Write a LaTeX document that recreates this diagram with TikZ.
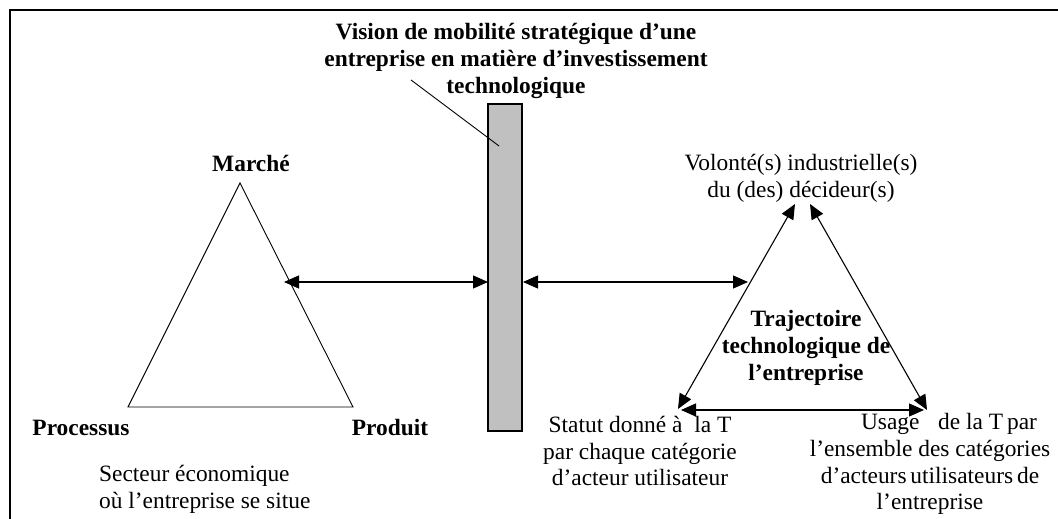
\documentclass[tikz,border=0pt]{standalone}
\usepackage{fontspec}
\setmainfont{Liberation Serif}
\usetikzlibrary{arrows.meta}
\begin{document}
\begin{tikzpicture}[x=1pt,y=-1pt,
  txt/.style={inner sep=0pt,align=center,font=\fontsize{23.4}{26.8}\selectfont},
  btxt/.style={txt,font=\fontsize{23.4}{26.8}\selectfont\bfseries},
  thin/.style={line width=0.9pt},
  dbl/.style={line width=1.1pt,{Triangle[length=15pt,width=13pt]}-{Triangle[length=15pt,width=13pt]}},
  barbox/.style={draw,line width=1.1pt,fill={rgb,255:red,192;green,192;blue,192}}
]
\useasboundingbox (0,0) rectangle (1058,519);
% frame
\draw[line width=2pt] (10,519) -- (10,10) -- (1058,10);

% title
\node[btxt] (title) at (516,61) {Vision de mobilité stratégique d’une\\entreprise en matière d’investissement\\technologique};
% grey bar
\node[barbox,minimum width=34pt,minimum height=327pt,inner sep=0pt] (bar) at (505,267.5) {};
\coordinate (ptrA) at (411,80);
\coordinate (ptrB) at (499,146);
\draw[thin] (ptrA) -- (ptrB);

% left triangle
\coordinate (mA) at (240,183);
\coordinate (mB) at (128,407);
\coordinate (mC) at (353,407);
\draw[thin] (mA) -- (mB) -- (mC) -- cycle;
\node[btxt] (marche) at (251,163) {Marché};
\node[btxt] (processus) at (81,428) {Processus};
\node[btxt] (produit) at (390,428) {Produit};
\node[txt,align=left,anchor=west] (secteur) at (99,489) {Secteur économique\\où l’entreprise se situe};

% horizontal arrows through the bar
\coordinate (lA) at (284,282);
\coordinate (lB) at (488,282);
\coordinate (rA) at (523,282);
\coordinate (rB) at (748,282);
\draw[dbl] (lA) -- (lB);
\draw[dbl] (rA) -- (rB);

% right triangle
\node[txt] (volonte) at (801,178) {Volonté(s) industrielle(s)\\du (des) décideur(s)};
\coordinate (tL) at (795,204);
\coordinate (tR) at (810,204);
\coordinate (bL) at (678,409);
\coordinate (bR) at (927,410);
\coordinate (hL) at (681,410);
\coordinate (hR) at (924,410);
\draw[dbl] (bL) -- (tL);
\draw[dbl] (bR) -- (tR);
\draw[dbl] (hL) -- (hR);
\node[btxt] (traj) at (806,348) {Trajectoire\\technologique de\\l’entreprise};
\node[txt] (statut) at (640,451) {Statut donné à\ \ la T\\par chaque catégorie\\d’acteur utilisateur};
\node[txt] (usage) at (930,464) {\hspace*{38pt}Usage\hspace{0.8em}de la T\,par\\l’ensemble des catégories\\d’acteurs\,utilisateurs\,de\\l’entreprise};
\end{tikzpicture}
\end{document}
